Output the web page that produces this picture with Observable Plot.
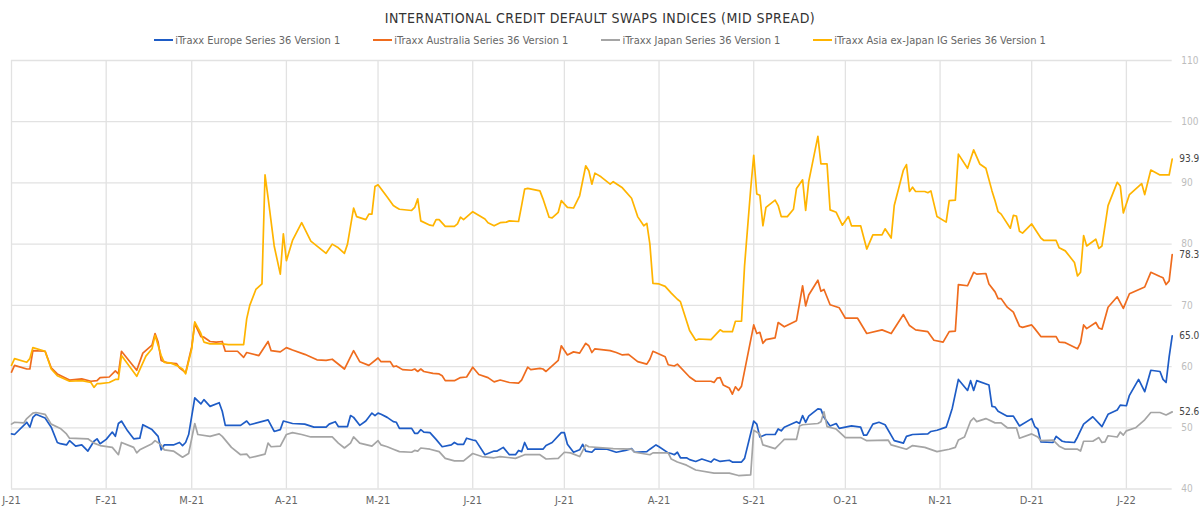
<!DOCTYPE html>
<html>
<head>
<meta charset="utf-8">
<script src="https://cdn.jsdelivr.net/npm/d3@7"></script>
<script src="https://cdn.jsdelivr.net/npm/@observablehq/plot@0.6"></script>
<style>
  body { margin: 0; background: #fff; font-family: "DejaVu Sans Condensed", "DejaVu Sans", sans-serif; font-stretch: condensed; }
  #title { height: 30px; line-height: 36px; text-align: center; font-size: 14px; color: #333; letter-spacing: 0.45px; }
  #legend { height: 20px; display: flex; justify-content: center; align-items: center; gap: 33px; font-size: 11px; color: #666; padding-left: 0px; }
  .item { display: flex; align-items: center; }
  .sw { width: 19px; height: 2px; margin-right: 2px; }
  #chart svg { display: block; overflow: visible; }
</style>
</head>
<body>
<div id="title">INTERNATIONAL CREDIT DEFAULT SWAPS INDICES (MID SPREAD)</div>
<div id="legend"></div>
<div id="chart"></div>
<script>
const seriesNames = [
  "iTraxx Europe Series 36 Version 1",
  "iTraxx Australia Series 36 Version 1",
  "iTraxx Japan Series 36 Version 1",
  "iTraxx Asia ex-Japan IG Series 36 Version 1"
];
const seriesColors = ["#1e5cc6", "#ef6c1e", "#a5a5a5", "#ffb400"];

const yTicks = [40, 50, 60, 70, 80, 90, 100, 110];
const monthTicks = ["2021-01-01","2021-02-01","2021-03-01","2021-04-01","2021-05-01","2021-06-01","2021-07-01","2021-08-01","2021-09-01","2021-10-01","2021-11-01","2021-12-01","2022-01-01"];
const monthLabels = ["J-21","F-21","M-21","A-21","M-21","J-21","J-21","A-21","S-21","O-21","N-21","D-21","J-22"];
const xDomain = ["2021-01-01", "2022-01-16"];

const europe = [["2021-01-01",49.0],["2021-01-02",48.9],["2021-01-06",50.9],["2021-01-07",50.1],["2021-01-08",51.7],["2021-01-09",52.2],["2021-01-12",51.6],["2021-01-14",50.1],["2021-01-16",47.6],["2021-01-17",47.4],["2021-01-19",47.2],["2021-01-20",47.9],["2021-01-22",47.0],["2021-01-24",47.2],["2021-01-26",46.2],["2021-01-28",47.8],["2021-01-29",48.2],["2021-01-30",47.4],["2021-02-01",48.1],["2021-02-03",49.3],["2021-02-04",48.6],["2021-02-05",50.7],["2021-02-06",51.1],["2021-02-08",49.5],["2021-02-10",48.2],["2021-02-12",48.3],["2021-02-13",50.5],["2021-02-16",49.7],["2021-02-18",48.6],["2021-02-19",46.4],["2021-02-20",47.2],["2021-02-23",47.2],["2021-02-25",47.6],["2021-02-26",47.1],["2021-02-27",47.6],["2021-02-28",48.9],["2021-03-02",54.9],["2021-03-04",53.9],["2021-03-05",54.6],["2021-03-07",53.5],["2021-03-10",54.1],["2021-03-11",52.7],["2021-03-12",50.4],["2021-03-17",50.4],["2021-03-19",51.1],["2021-03-20",50.5],["2021-03-26",51.3],["2021-03-28",49.4],["2021-03-30",49.7],["2021-03-31",51.1],["2021-04-03",50.7],["2021-04-07",50.6],["2021-04-10",50.1],["2021-04-14",50.1],["2021-04-15",50.6],["2021-04-17",51.0],["2021-04-18",50.2],["2021-04-21",50.2],["2021-04-22",52.0],["2021-04-23",51.7],["2021-04-25",50.4],["2021-04-27",51.1],["2021-04-29",52.4],["2021-04-30",52.0],["2021-05-01",52.4],["2021-05-02",52.2],["2021-05-04",51.7],["2021-05-06",51.0],["2021-05-07",50.9],["2021-05-08",49.9],["2021-05-12",49.9],["2021-05-13",49.1],["2021-05-14",49.1],["2021-05-15",49.7],["2021-05-16",49.3],["2021-05-18",49.2],["2021-05-20",48.1],["2021-05-22",46.9],["2021-05-25",47.2],["2021-05-26",47.6],["2021-05-27",47.3],["2021-05-29",47.3],["2021-05-30",48.3],["2021-06-01",48.0],["2021-06-02",47.9],["2021-06-05",45.6],["2021-06-08",46.2],["2021-06-09",46.2],["2021-06-11",46.8],["2021-06-13",45.6],["2021-06-15",45.6],["2021-06-16",46.3],["2021-06-17",46.1],["2021-06-18",47.6],["2021-06-19",46.5],["2021-06-24",46.5],["2021-06-25",47.1],["2021-06-27",47.6],["2021-06-30",49.2],["2021-07-01",49.2],["2021-07-02",47.3],["2021-07-04",46.0],["2021-07-06",46.4],["2021-07-07",47.3],["2021-07-08",46.2],["2021-07-10",46.0],["2021-07-11",46.5],["2021-07-15",46.5],["2021-07-18",46.0],["2021-07-21",46.3],["2021-07-23",46.6],["2021-07-24",46.0],["2021-07-28",46.1],["2021-07-29",46.5],["2021-07-31",47.2],["2021-08-01",46.9],["2021-08-04",45.9],["2021-08-05",45.8],["2021-08-06",45.6],["2021-08-07",46.0],["2021-08-08",45.1],["2021-08-10",45.1],["2021-08-11",44.8],["2021-08-13",44.5],["2021-08-15",44.9],["2021-08-18",44.4],["2021-08-19",44.9],["2021-08-21",44.5],["2021-08-24",44.7],["2021-08-25",44.4],["2021-08-28",44.4],["2021-08-29",45.0],["2021-09-01",51.1],["2021-09-02",50.6],["2021-09-03",48.5],["2021-09-05",48.9],["2021-09-08",48.9],["2021-09-09",49.8],["2021-09-10",49.5],["2021-09-11",50.1],["2021-09-15",51.0],["2021-09-16",50.7],["2021-09-17",52.0],["2021-09-18",50.9],["2021-09-19",51.9],["2021-09-22",53.1],["2021-09-23",53.0],["2021-09-24",51.7],["2021-09-26",50.3],["2021-09-28",50.7],["2021-09-29",49.9],["2021-10-03",50.3],["2021-10-06",50.1],["2021-10-07",48.8],["2021-10-08",48.8],["2021-10-10",50.6],["2021-10-12",50.9],["2021-10-14",50.5],["2021-10-17",47.9],["2021-10-20",47.5],["2021-10-21",48.6],["2021-10-23",48.9],["2021-10-28",49.0],["2021-10-29",49.4],["2021-10-31",49.6],["2021-11-03",50.1],["2021-11-04",51.6],["2021-11-05",53.2],["2021-11-07",57.9],["2021-11-10",56.1],["2021-11-11",57.7],["2021-11-12",56.1],["2021-11-13",57.7],["2021-11-17",57.0],["2021-11-18",53.5],["2021-11-19",53.4],["2021-11-20",52.7],["2021-11-23",51.9],["2021-11-25",51.9],["2021-11-27",50.3],["2021-12-01",51.5],["2021-12-02",50.2],["2021-12-03",49.8],["2021-12-04",47.7],["2021-12-08",47.6],["2021-12-09",48.6],["2021-12-11",47.8],["2021-12-12",47.7],["2021-12-15",47.6],["2021-12-16",48.5],["2021-12-18",50.6],["2021-12-21",51.8],["2021-12-24",50.2],["2021-12-26",52.2],["2021-12-29",52.9],["2021-12-30",53.7],["2022-01-01",53.6],["2022-01-02",55.3],["2022-01-05",57.9],["2022-01-07",55.9],["2022-01-09",59.4],["2022-01-12",59.2],["2022-01-13",57.9],["2022-01-14",57.4],["2022-01-15",61.6],["2022-01-16",65.0]];

const australia = [["2021-01-01",59.1],["2021-01-02",60.2],["2021-01-06",59.6],["2021-01-07",59.6],["2021-01-08",62.6],["2021-01-12",62.5],["2021-01-14",59.8],["2021-01-16",58.8],["2021-01-20",57.8],["2021-01-24",58.0],["2021-01-27",57.6],["2021-01-29",57.7],["2021-01-30",58.2],["2021-02-02",58.3],["2021-02-04",59.3],["2021-02-05",58.8],["2021-02-06",62.5],["2021-02-11",59.4],["2021-02-13",62.2],["2021-02-16",63.5],["2021-02-17",65.4],["2021-02-18",64.0],["2021-02-19",61.0],["2021-02-21",60.6],["2021-02-24",60.5],["2021-02-25",59.8],["2021-02-27",59.0],["2021-03-01",63.2],["2021-03-02",67.0],["2021-03-04",64.9],["2021-03-05",64.8],["2021-03-07",64.1],["2021-03-09",64.0],["2021-03-11",64.1],["2021-03-12",62.5],["2021-03-16",62.5],["2021-03-18",61.5],["2021-03-19",62.3],["2021-03-23",61.8],["2021-03-26",64.1],["2021-03-27",62.6],["2021-03-30",62.4],["2021-04-01",63.1],["2021-04-03",62.7],["2021-04-07",62.0],["2021-04-11",61.1],["2021-04-14",61.0],["2021-04-16",61.2],["2021-04-20",59.6],["2021-04-23",62.6],["2021-04-25",60.8],["2021-04-28",60.2],["2021-05-01",61.4],["2021-05-02",60.8],["2021-05-05",60.8],["2021-05-06",60.0],["2021-05-07",60.1],["2021-05-09",59.5],["2021-05-12",59.4],["2021-05-13",59.6],["2021-05-14",59.2],["2021-05-15",59.6],["2021-05-16",59.2],["2021-05-19",58.9],["2021-05-21",58.8],["2021-05-22",58.5],["2021-05-23",57.7],["2021-05-26",57.7],["2021-05-28",58.2],["2021-05-30",58.3],["2021-06-01",59.9],["2021-06-03",58.7],["2021-06-06",58.2],["2021-06-08",57.5],["2021-06-10",57.8],["2021-06-13",57.4],["2021-06-16",57.3],["2021-06-17",57.8],["2021-06-19",59.9],["2021-06-20",59.5],["2021-06-23",59.7],["2021-06-24",59.6],["2021-06-25",59.2],["2021-06-29",61.0],["2021-06-30",63.4],["2021-07-02",61.9],["2021-07-04",62.4],["2021-07-06",62.2],["2021-07-08",63.8],["2021-07-09",63.4],["2021-07-10",62.3],["2021-07-11",62.9],["2021-07-16",62.6],["2021-07-18",62.3],["2021-07-20",61.9],["2021-07-22",62.0],["2021-07-25",60.8],["2021-07-28",60.4],["2021-07-29",61.2],["2021-07-30",62.5],["2021-08-03",61.6],["2021-08-04",60.3],["2021-08-06",60.1],["2021-08-07",60.4],["2021-08-11",58.3],["2021-08-13",57.6],["2021-08-18",57.6],["2021-08-19",57.4],["2021-08-20",58.1],["2021-08-21",58.2],["2021-08-22",57.0],["2021-08-24",56.5],["2021-08-25",55.5],["2021-08-26",56.7],["2021-08-27",56.1],["2021-08-28",56.8],["2021-09-01",66.8],["2021-09-02",65.4],["2021-09-03",65.6],["2021-09-04",63.8],["2021-09-05",64.4],["2021-09-08",64.7],["2021-09-09",67.2],["2021-09-11",66.5],["2021-09-15",67.5],["2021-09-17",73.2],["2021-09-18",69.9],["2021-09-19",71.7],["2021-09-22",74.1],["2021-09-23",72.3],["2021-09-24",72.6],["2021-09-26",70.1],["2021-09-29",69.6],["2021-10-01",67.9],["2021-10-05",67.9],["2021-10-08",65.4],["2021-10-13",66.0],["2021-10-16",65.4],["2021-10-20",68.5],["2021-10-22",66.7],["2021-10-24",66.0],["2021-10-28",65.7],["2021-10-30",64.3],["2021-11-02",64.0],["2021-11-04",65.7],["2021-11-06",65.8],["2021-11-07",73.4],["2021-11-10",73.2],["2021-11-12",75.4],["2021-11-13",75.1],["2021-11-16",75.2],["2021-11-17",73.5],["2021-11-19",72.2],["2021-11-20",71.1],["2021-11-21",71.1],["2021-11-23",69.7],["2021-11-25",68.9],["2021-11-27",66.6],["2021-11-28",66.4],["2021-12-01",66.8],["2021-12-02",66.2],["2021-12-04",64.9],["2021-12-09",64.9],["2021-12-10",64.0],["2021-12-12",63.9],["2021-12-16",62.9],["2021-12-17",63.9],["2021-12-18",66.8],["2021-12-19",66.2],["2021-12-22",67.2],["2021-12-23",66.3],["2021-12-24",66.1],["2021-12-26",69.7],["2021-12-29",71.4],["2021-12-31",69.5],["2022-01-02",71.9],["2022-01-07",73.0],["2022-01-09",75.4],["2022-01-12",74.7],["2022-01-13",74.5],["2022-01-14",73.4],["2022-01-15",74.0],["2022-01-16",78.3]];

const japan = [["2021-01-01",50.6],["2021-01-02",50.9],["2021-01-05",50.8],["2021-01-06",51.5],["2021-01-08",52.4],["2021-01-09",52.5],["2021-01-12",52.2],["2021-01-14",50.6],["2021-01-17",49.9],["2021-01-19",49.0],["2021-01-20",48.3],["2021-01-26",48.2],["2021-01-28",47.5],["2021-01-30",47.1],["2021-02-03",46.8],["2021-02-05",45.6],["2021-02-06",47.6],["2021-02-10",46.8],["2021-02-11",45.9],["2021-02-12",46.4],["2021-02-16",47.4],["2021-02-17",47.9],["2021-02-19",47.2],["2021-02-20",46.4],["2021-02-23",46.2],["2021-02-26",45.2],["2021-02-28",45.8],["2021-03-02",50.7],["2021-03-03",48.9],["2021-03-07",48.6],["2021-03-10",49.0],["2021-03-11",48.6],["2021-03-14",46.8],["2021-03-17",45.6],["2021-03-19",45.7],["2021-03-20",45.1],["2021-03-25",45.7],["2021-03-26",47.5],["2021-03-27",46.9],["2021-03-30",47.0],["2021-04-01",48.9],["2021-04-03",49.2],["2021-04-06",48.9],["2021-04-09",48.5],["2021-04-16",48.5],["2021-04-18",47.5],["2021-04-20",46.7],["2021-04-22",47.5],["2021-04-23",48.5],["2021-04-25",47.5],["2021-04-29",47.0],["2021-05-01",47.9],["2021-05-02",47.2],["2021-05-04",46.9],["2021-05-06",46.5],["2021-05-08",46.1],["2021-05-12",46.0],["2021-05-13",46.3],["2021-05-14",46.2],["2021-05-15",46.7],["2021-05-18",46.5],["2021-05-21",46.1],["2021-05-23",45.0],["2021-05-26",44.6],["2021-05-29",44.6],["2021-06-01",45.8],["2021-06-04",45.3],["2021-06-08",45.1],["2021-06-10",45.3],["2021-06-15",45.0],["2021-06-18",45.6],["2021-06-23",45.6],["2021-06-25",44.9],["2021-06-29",45.0],["2021-07-01",46.0],["2021-07-03",45.9],["2021-07-06",45.3],["2021-07-08",47.2],["2021-07-09",46.9],["2021-07-17",46.6],["2021-07-23",46.5],["2021-07-24",46.0],["2021-07-29",45.6],["2021-07-30",45.9],["2021-08-04",45.9],["2021-08-05",44.9],["2021-08-07",44.4],["2021-08-10",43.9],["2021-08-13",43.1],["2021-08-19",42.6],["2021-08-24",42.6],["2021-08-27",42.2],["2021-08-31",42.3],["2021-09-01",49.6],["2021-09-03",49.0],["2021-09-04",47.2],["2021-09-08",46.6],["2021-09-10",47.6],["2021-09-11",48.1],["2021-09-15",48.1],["2021-09-16",50.3],["2021-09-17",50.5],["2021-09-22",50.7],["2021-09-23",51.0],["2021-09-24",52.6],["2021-09-25",50.2],["2021-09-28",49.8],["2021-10-01",48.4],["2021-10-06",48.4],["2021-10-08",47.9],["2021-10-15",48.0],["2021-10-16",47.2],["2021-10-21",46.5],["2021-10-23",47.1],["2021-10-27",46.8],["2021-10-31",46.1],["2021-11-04",46.5],["2021-11-06",46.8],["2021-11-07",48.0],["2021-11-09",48.5],["2021-11-11",51.1],["2021-11-12",51.6],["2021-11-13",51.0],["2021-11-16",51.5],["2021-11-19",50.8],["2021-11-21",50.8],["2021-11-23",50.0],["2021-11-26",50.0],["2021-11-27",48.3],["2021-12-01",49.0],["2021-12-03",48.5],["2021-12-04",47.9],["2021-12-08",48.0],["2021-12-10",47.0],["2021-12-12",46.5],["2021-12-16",46.5],["2021-12-17",46.2],["2021-12-18",47.8],["2021-12-21",47.8],["2021-12-23",48.4],["2021-12-24",47.6],["2021-12-25",47.7],["2021-12-26",48.7],["2021-12-29",48.5],["2021-12-30",49.3],["2021-12-31",48.8],["2022-01-01",49.5],["2022-01-04",50.0],["2022-01-07",51.3],["2022-01-09",52.5],["2022-01-12",52.5],["2022-01-14",52.1],["2022-01-16",52.6]];

const asiaExJapan = [["2021-01-01",60.2],["2021-01-02",61.3],["2021-01-06",60.7],["2021-01-07",61.3],["2021-01-08",63.1],["2021-01-12",62.5],["2021-01-14",59.6],["2021-01-16",58.5],["2021-01-20",57.6],["2021-01-24",57.7],["2021-01-27",57.4],["2021-01-28",56.6],["2021-01-29",57.2],["2021-01-30",57.2],["2021-02-02",57.4],["2021-02-04",57.9],["2021-02-05",57.9],["2021-02-06",61.8],["2021-02-11",58.4],["2021-02-14",61.7],["2021-02-16",62.9],["2021-02-17",65.1],["2021-02-19",61.8],["2021-02-20",60.7],["2021-02-22",60.6],["2021-02-24",60.2],["2021-02-26",59.6],["2021-02-27",58.8],["2021-03-01",62.9],["2021-03-02",67.3],["2021-03-04",65.4],["2021-03-05",64.0],["2021-03-07",63.7],["2021-03-11",63.7],["2021-03-13",63.6],["2021-03-18",63.6],["2021-03-19",67.8],["2021-03-20",70.0],["2021-03-22",72.6],["2021-03-24",73.5],["2021-03-25",91.3],["2021-03-26",87.6],["2021-03-28",79.7],["2021-03-30",75.1],["2021-03-31",81.7],["2021-04-01",77.3],["2021-04-03",80.6],["2021-04-06",83.5],["2021-04-09",80.5],["2021-04-14",78.5],["2021-04-16",80.0],["2021-04-18",79.4],["2021-04-20",78.5],["2021-04-21",80.0],["2021-04-23",85.9],["2021-04-24",84.5],["2021-04-27",84.0],["2021-04-28",84.9],["2021-04-29",84.9],["2021-04-30",89.4],["2021-05-01",89.7],["2021-05-04",87.7],["2021-05-06",86.3],["2021-05-07",86.0],["2021-05-08",85.7],["2021-05-12",85.5],["2021-05-13",86.0],["2021-05-14",87.4],["2021-05-15",83.8],["2021-05-18",83.1],["2021-05-19",83.0],["2021-05-20",84.0],["2021-05-21",84.0],["2021-05-23",82.9],["2021-05-26",82.9],["2021-05-27",83.3],["2021-05-28",84.4],["2021-05-29",84.0],["2021-06-01",85.3],["2021-06-05",84.1],["2021-06-06",83.5],["2021-06-08",83.0],["2021-06-10",83.5],["2021-06-12",83.6],["2021-06-13",83.8],["2021-06-16",83.7],["2021-06-17",86.3],["2021-06-18",89.0],["2021-06-19",89.1],["2021-06-23",88.7],["2021-06-24",87.4],["2021-06-26",84.4],["2021-06-27",84.3],["2021-06-29",85.2],["2021-06-30",87.1],["2021-07-02",86.0],["2021-07-04",85.9],["2021-07-06",87.9],["2021-07-08",92.8],["2021-07-09",92.0],["2021-07-10",89.8],["2021-07-11",91.6],["2021-07-13",91.0],["2021-07-16",89.8],["2021-07-17",90.2],["2021-07-20",89.2],["2021-07-23",87.5],["2021-07-25",84.5],["2021-07-27",83.0],["2021-07-28",83.4],["2021-07-29",80.0],["2021-07-30",73.6],["2021-08-01",73.5],["2021-08-03",73.1],["2021-08-05",72.0],["2021-08-07",71.0],["2021-08-08",70.6],["2021-08-11",65.9],["2021-08-13",64.3],["2021-08-14",64.5],["2021-08-18",64.4],["2021-08-21",66.0],["2021-08-22",65.7],["2021-08-25",65.7],["2021-08-26",67.4],["2021-08-28",67.4],["2021-08-29",76.5],["2021-08-31",89.0],["2021-09-01",94.5],["2021-09-02",88.2],["2021-09-03",88.0],["2021-09-04",83.0],["2021-09-05",86.0],["2021-09-08",87.2],["2021-09-09",86.3],["2021-09-10",84.5],["2021-09-12",84.5],["2021-09-14",85.7],["2021-09-15",89.1],["2021-09-17",90.5],["2021-09-18",85.5],["2021-09-19",90.2],["2021-09-22",97.6],["2021-09-23",93.1],["2021-09-25",93.1],["2021-09-26",85.6],["2021-09-28",85.2],["2021-09-30",83.1],["2021-10-02",84.5],["2021-10-03",83.0],["2021-10-06",83.0],["2021-10-08",79.2],["2021-10-10",81.5],["2021-10-13",81.5],["2021-10-14",82.5],["2021-10-16",81.0],["2021-10-17",86.3],["2021-10-20",92.1],["2021-10-21",93.0],["2021-10-22",88.6],["2021-10-23",89.3],["2021-10-24",88.6],["2021-10-27",88.6],["2021-10-28",88.4],["2021-10-29",88.7],["2021-10-31",84.5],["2021-11-03",83.6],["2021-11-04",87.1],["2021-11-06",87.2],["2021-11-07",94.7],["2021-11-10",92.4],["2021-11-11",93.9],["2021-11-12",95.4],["2021-11-14",93.1],["2021-11-16",92.4],["2021-11-18",88.7],["2021-11-19",87.1],["2021-11-20",85.3],["2021-11-21",84.9],["2021-11-24",82.6],["2021-11-25",84.7],["2021-11-26",84.6],["2021-11-27",82.1],["2021-11-28",81.8],["2021-12-01",83.3],["2021-12-04",81.0],["2021-12-05",80.6],["2021-12-09",80.6],["2021-12-10",79.4],["2021-12-12",78.9],["2021-12-15",77.0],["2021-12-16",74.8],["2021-12-17",75.4],["2021-12-18",81.4],["2021-12-19",79.7],["2021-12-22",80.8],["2021-12-23",79.3],["2021-12-24",79.7],["2021-12-26",86.3],["2021-12-29",90.1],["2021-12-30",89.5],["2021-12-31",85.1],["2022-01-02",88.1],["2022-01-06",89.9],["2022-01-07",88.1],["2022-01-09",92.1],["2022-01-12",91.3],["2022-01-15",91.3],["2022-01-16",93.9]];

const seriesData = [europe, australia, japan, asiaExJapan];

// legend
const legend = document.getElementById("legend");
seriesNames.forEach((n, i) => {
  const it = document.createElement("div");
  it.className = "item";
  const sw = document.createElement("div");
  sw.className = "sw";
  sw.style.background = seriesColors[i];
  const tx = document.createElement("span");
  tx.textContent = n;
  it.appendChild(sw); it.appendChild(tx);
  legend.appendChild(it);
});

const parse = d3.utcParse("%Y-%m-%d");
const rows = seriesData.flatMap((s, i) => s.map(([d, v]) => ({date: parse(d), value: v, name: seriesNames[i]})));
const lastRows = seriesData.map((s, i) => ({date: parse(s[s.length - 1][0]), value: s[s.length - 1][1], name: seriesNames[i]}));
const tickDates = monthTicks.map(parse);
const labelOf = new Map(monthTicks.map((d, i) => [+parse(d), monthLabels[i]]));

const chart = Plot.plot({
  width: 1200,
  height: 462,
  marginTop: 10,
  marginBottom: 23.5,
  marginLeft: 11,
  marginRight: 28.3,
  style: {fontFamily: '"DejaVu Sans Condensed", "DejaVu Sans", sans-serif', background: "#fff"},
  x: {type: "utc", domain: xDomain.map(parse), label: null},
  y: {domain: [40, 110], label: null},
  color: {domain: seriesNames, range: seriesColors},
  marks: [
    Plot.gridY(yTicks, {stroke: "#e2e2e2", strokeOpacity: 1, strokeWidth: 1.3}),
    Plot.gridX(tickDates, {stroke: "#e2e2e2", strokeOpacity: 1, strokeWidth: 1.3}),
    Plot.axisY(yTicks, {anchor: "right", tickSize: 0, tickPadding: 9, fill: "#bdbdbd", fontSize: 10, label: null}),
    Plot.axisX(tickDates, {anchor: "bottom", tickSize: 0, tickPadding: 7, fill: "#666", fontSize: 11, label: null, tickFormat: d => labelOf.get(+d)}),
    Plot.lineY(rows, {x: "date", y: "value", z: "name", stroke: "name", strokeWidth: 1.7, curve: "linear"}),
    Plot.text(lastRows, {x: "date", y: "value", text: d => d.value.toFixed(1), dx: 7, textAnchor: "start", fill: "#444", fontSize: 10})
  ]
});
document.getElementById("chart").appendChild(chart);
</script>
</body>
</html>
